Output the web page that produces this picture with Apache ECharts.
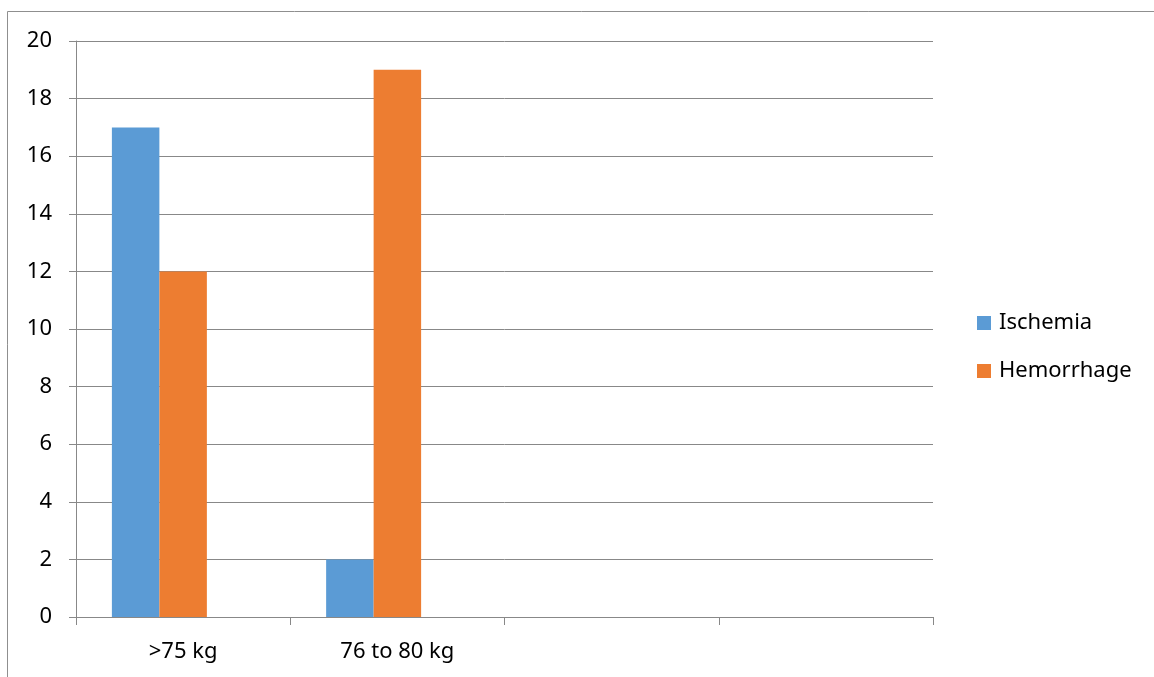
<!DOCTYPE html>
<html>
<head>
<meta charset="utf-8">
<script src="https://cdn.jsdelivr.net/npm/echarts@6/dist/echarts.min.js"></script>
<style>
  html, body { margin: 0; padding: 0; background: #ffffff; }
  #chart { width: 1154px; height: 677px; }
</style>
</head>
<body>
<div id="chart"></div>
<script>
// Weight groups on the category axis (last two slots are unlabeled)
const categories = ['>75 kg', '76 to 80 kg', '', ''];
// Counts per weight group
const ischemia = [17, 2, null, null];
const hemorrhage = [12, 19, null, null];
// Third slot in each group is kept empty
const emptySlot = [null, null, null, null];
const legendNames = ['Ischemia', 'Hemorrhage'];

const FONT = 'Noto Sans';
const FONT_SIZE = 22;
const GRID_COLOR = '#888888';

const chart = echarts.init(document.getElementById('chart'), null, { renderer: 'canvas' });

chart.setOption({
  backgroundColor: '#ffffff',
  animation: false,
  graphic: [{
    // outer chart-area frame (only its top and left edges fall inside the canvas)
    type: 'rect',
    position: [7.5, 11.5],
    shape: { x: 0, y: 0, width: 1300, height: 800 },
    style: { fill: 'none', stroke: '#8f8f8f', lineWidth: 1 },
    silent: true
  }],
  grid: { left: 76, right: 221, top: 41, bottom: 60, containLabel: false },
  legend: {
    data: legendNames,
    orient: 'vertical',
    left: 977,
    top: 312,
    padding: 0,
    itemWidth: 14,
    itemHeight: 14,
    itemGap: 26,
    icon: 'rect',
    textStyle: { fontFamily: FONT, fontSize: FONT_SIZE, lineHeight: 22, color: '#000000', padding: [0, 0, 0, 3] }
  },
  xAxis: {
    type: 'category',
    data: categories,
    axisLine: { show: true, lineStyle: { color: GRID_COLOR, width: 1 } },
    axisTick: { show: true, interval: 0, length: 8, inside: false, lineStyle: { color: GRID_COLOR } },
    axisLabel: { interval: 0, margin: 24, fontFamily: FONT, fontSize: FONT_SIZE, color: '#000000' },
    splitLine: { show: false }
  },
  yAxis: {
    type: 'value',
    min: 0,
    max: 20,
    interval: 2,
    axisLine: { show: true, lineStyle: { color: GRID_COLOR, width: 1 } },
    axisTick: { show: true, length: 7, lineStyle: { color: GRID_COLOR } },
    axisLabel: { margin: 24, fontFamily: FONT, fontSize: FONT_SIZE, color: '#000000' },
    splitLine: { show: true, lineStyle: { color: GRID_COLOR, width: 1 } }
  },
  series: [
    {
      name: 'Ischemia',
      type: 'bar',
      data: ischemia,
      barGap: '0%',
      barCategoryGap: '33.5%',
      itemStyle: { color: '#5B9BD5' }
    },
    {
      name: 'Hemorrhage',
      type: 'bar',
      data: hemorrhage,
      barGap: '0%',
      barCategoryGap: '33.5%',
      itemStyle: { color: '#ED7D31' }
    },
    {
      name: '',
      type: 'bar',
      data: emptySlot,
      barGap: '0%',
      barCategoryGap: '33.5%',
      itemStyle: { color: '#A5A5A5' }
    }
  ]
});
</script>
</body>
</html>
